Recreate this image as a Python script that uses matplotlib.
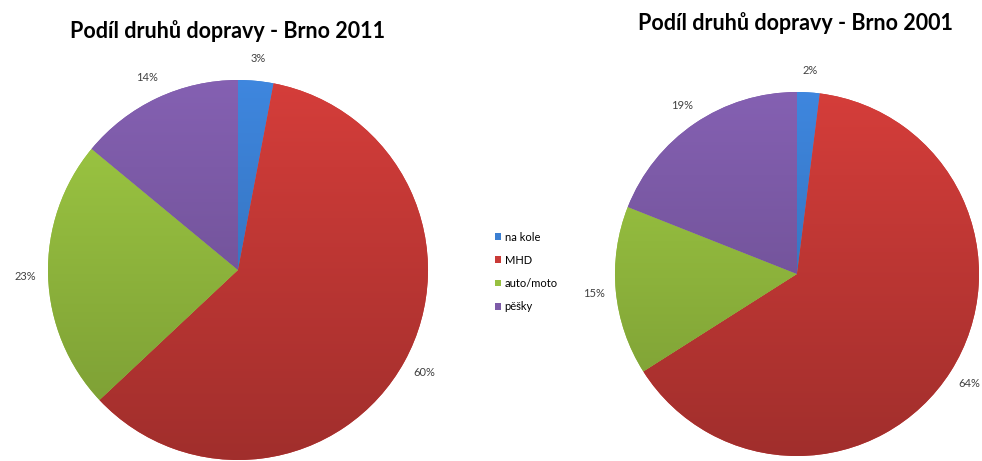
import matplotlib
matplotlib.use("Agg")
import matplotlib.pyplot as plt
import numpy as np

# data
categories = ["na kole", "MHD", "auto/moto", "pěšky"]
share_2011 = [3, 60, 23, 14]
share_2001 = [2, 64, 15, 19]
colors = ["#3b7fd2", "#c93a37", "#97c040", "#7d5ba8"]

W, H = 982, 461
plt.rcParams["font.family"] = ["Lato", "DejaVu Sans"]

fig = plt.figure(figsize=(W / 100, H / 100), dpi=100)


def px_axes(cx, cy, r):
    # axes in pixel coords (origin top-left) so that the pie of radius 1 fills it
    return fig.add_axes([(cx - r) / W, (H - cy - r) / H, 2 * r / W, 2 * r / H])


def shade(ax, wedges):
    # vertical gradient like the Excel 2007 pies
    t = np.linspace(0, 1, 256)[:, None]
    for w in wedges:
        c = np.array(w.get_facecolor()[:3])
        top = np.clip(c * 1.06, 0, 1)
        bot = c * 0.80
        img = top[None, None, :] * (1 - t[..., None]) + bot[None, None, :] * t[..., None]
        im = ax.imshow(img, extent=(-1, 1, -1, 1), origin="upper", aspect="auto", zorder=1)
        im.set_clip_path(w)
        w.set_zorder(0)


def draw_pie(ax, values, title, title_xy):
    wedges, _, autotexts = ax.pie(
        values, colors=colors, startangle=90, counterclock=False, radius=1,
        autopct="%.0f%%", pctdistance=1.12,
        wedgeprops=dict(linewidth=0),
        textprops=dict(fontsize=8, color="#404040"),
    )
    ax.set_xlim(-1, 1)
    ax.set_ylim(-1, 1)
    ax.set_aspect("auto")
    ax.axis("off")
    for t in autotexts:
        t.set_clip_on(False)
    shade(ax, wedges)
    fig.text(title_xy[0] / W, 1 - title_xy[1] / H, title, ha="center", va="center",
             fontsize=15.5, fontweight="bold", color="black")
    return wedges


ax1 = px_axes(238, 270, 190)
w1 = draw_pie(ax1, share_2011, "Podíl druhů dopravy - Brno 2011", (228, 31))

ax2 = px_axes(797, 274, 182)
draw_pie(ax2, share_2001, "Podíl druhů dopravy - Brno 2001", (796, 23))

fig.legend(w1, categories, loc="upper left", bbox_to_anchor=(489 / W, 1 - 226 / H),
           frameon=False, fontsize=8, handlelength=0.55, handleheight=0.55,
           handletextpad=0.35, labelspacing=1.1, borderpad=0)

fig.savefig("out.png", dpi=100)
